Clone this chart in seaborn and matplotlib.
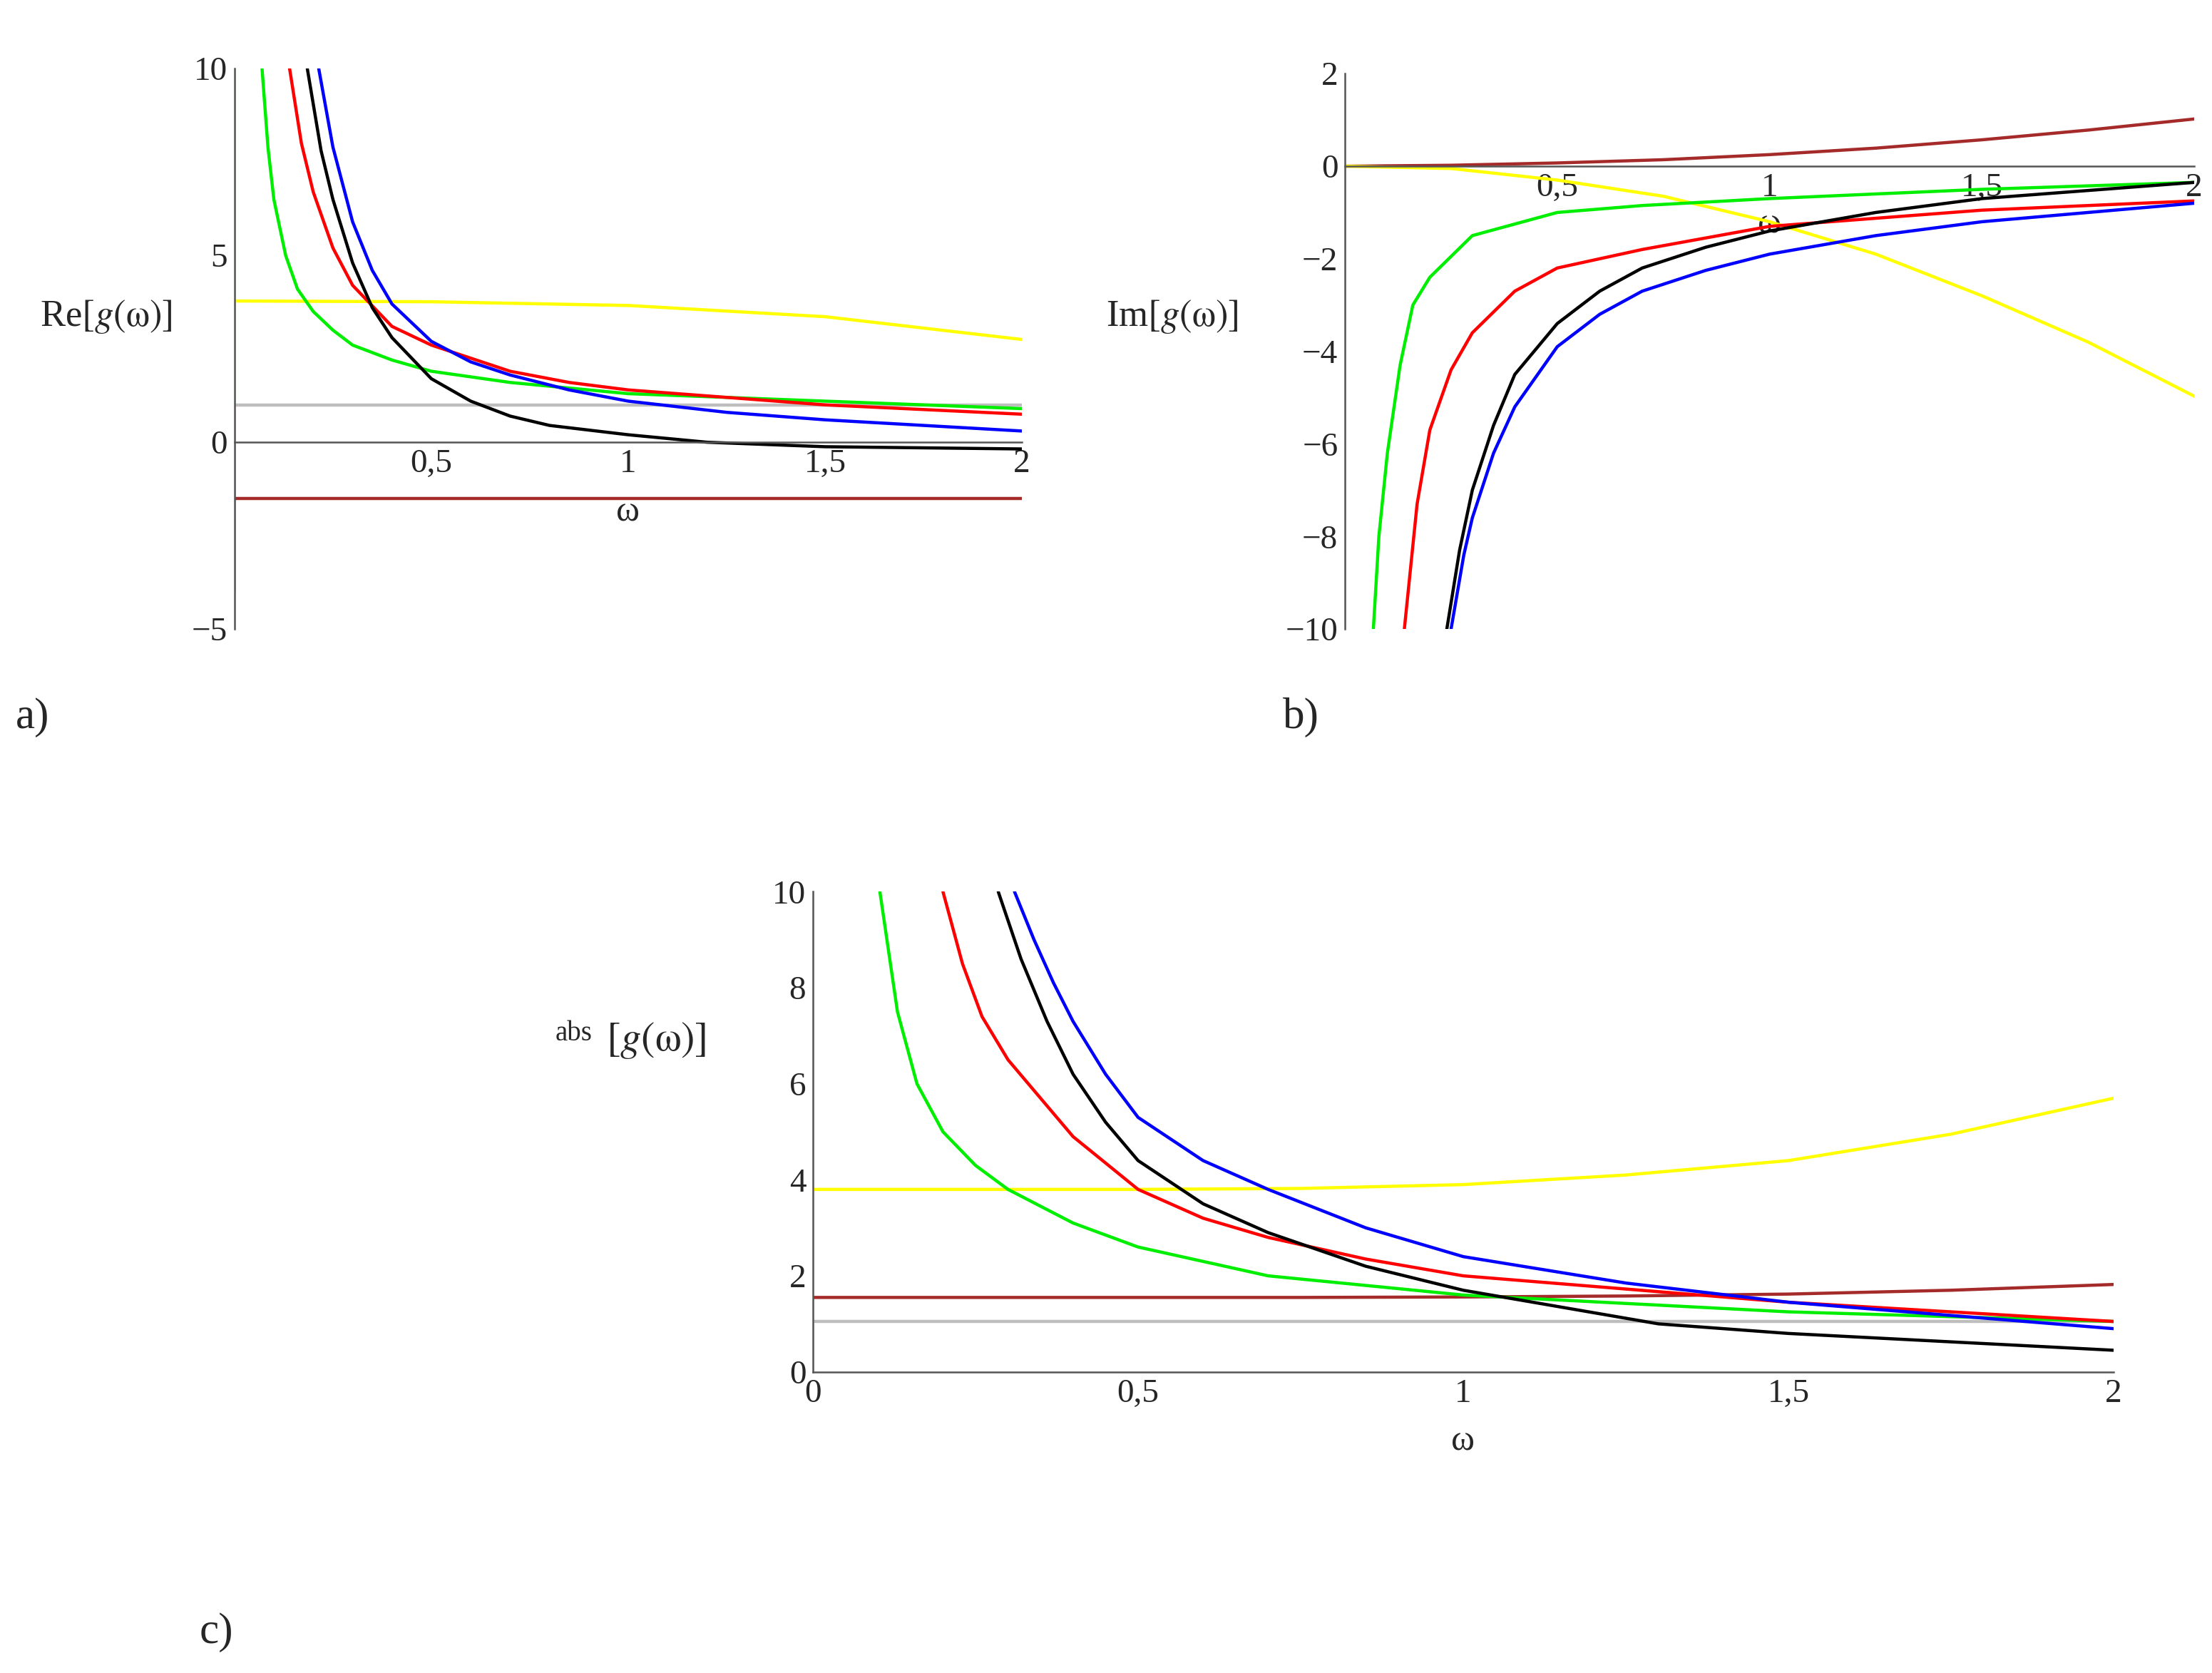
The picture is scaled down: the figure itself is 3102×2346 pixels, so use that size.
import numpy as np
import matplotlib
matplotlib.use("Agg")
import matplotlib.pyplot as plt
import seaborn as sns
from matplotlib.ticker import MultipleLocator

sns.set_style("white")
plt.rcParams['font.family'] = ['Liberation Serif', 'DejaVu Serif']
plt.rcParams['mathtext.fontset'] = 'stix'

COL = dict(yellow="#ffff00", green="#00ee00", red="#ff0000", blue="#0000ff",
           black="#000000", gray="#bebebe", brown="#a52a2a")

# ---- panel a: Re[g(w)] ----
re_w_flat = [0.0, 0.5, 1.0, 1.5, 2.0]
re_yellow = [3.78, 3.76, 3.66, 3.36, 2.75]
re_gray = [1.0, 1.0, 1.0, 1.0, 1.0]
re_brown = [-1.5, -1.5, -1.5, -1.5, -1.5]
re_black_w = [0.185, 0.22, 0.25, 0.3, 0.35, 0.4, 0.5, 0.6, 0.7, 0.8, 1.0, 1.2, 1.5, 2.0]
re_black = [10, 7.8, 6.5, 4.8, 3.6, 2.8, 1.7, 1.1, 0.7, 0.45, 0.2, 0.0, -0.12, -0.18]
re_blue_w = [0.214, 0.25, 0.3, 0.35, 0.4, 0.5, 0.6, 0.7, 0.85, 1.0, 1.25, 1.5, 2.0]
re_blue = [10, 7.9, 5.9, 4.6, 3.7, 2.7, 2.15, 1.8, 1.4, 1.1, 0.8, 0.6, 0.3]
re_red_w = [0.14, 0.17, 0.2, 0.25, 0.3, 0.4, 0.5, 0.7, 0.85, 1.0, 1.5, 2.0]
re_red = [10, 8.0, 6.7, 5.2, 4.2, 3.1, 2.6, 1.9, 1.6, 1.4, 1.0, 0.75]
re_green_w = [0.07, 0.085, 0.1, 0.13, 0.16, 0.2, 0.25, 0.3, 0.4, 0.5, 0.7, 1.0, 1.5, 2.0]
re_green = [10, 7.9, 6.5, 5.0, 4.1, 3.5, 3.0, 2.6, 2.2, 1.9, 1.6, 1.3, 1.1, 0.9]
re_axis_seg = [("green", 10, 1.0), ("red", 1.0, 0.0), ("blue", 0.0, -2.0), ("black", -2.0, -4.0)]

# ---- panel b: Im[g(w)] ----
im_w = [0.0, 0.25, 0.5, 0.75, 1.0, 1.25, 1.5, 1.75, 2.0]
im_brown = [0.0, 0.02, 0.07, 0.14, 0.25, 0.39, 0.57, 0.78, 1.02]
im_yellow = [0.0, -0.05, -0.3, -0.65, -1.2, -1.9, -2.8, -3.8, -4.97]
im_green_w = [0.067, 0.08, 0.1, 0.13, 0.16, 0.2, 0.3, 0.5, 0.7, 1.0, 1.5, 2.0]
im_green = [-10, -8.0, -6.2, -4.3, -3.0, -2.4, -1.5, -1.0, -0.85, -0.7, -0.5, -0.35]
im_red_w = [0.14, 0.17, 0.2, 0.25, 0.3, 0.4, 0.5, 0.7, 1.0, 1.5, 2.0]
im_red = [-10, -7.3, -5.7, -4.4, -3.6, -2.7, -2.2, -1.8, -1.3, -0.95, -0.75]
im_black_w = [0.24, 0.27, 0.3, 0.35, 0.4, 0.5, 0.6, 0.7, 0.85, 1.0, 1.25, 1.5, 2.0]
im_black = [-10, -8.3, -7.0, -5.6, -4.5, -3.4, -2.7, -2.2, -1.75, -1.4, -1.0, -0.7, -0.35]
im_blue_w = [0.25, 0.28, 0.3, 0.35, 0.4, 0.5, 0.6, 0.7, 0.85, 1.0, 1.25, 1.5, 2.0]
im_blue = [-10, -8.4, -7.6, -6.2, -5.2, -3.9, -3.2, -2.7, -2.25, -1.9, -1.5, -1.2, -0.8]

# ---- panel c: abs[g(w)] ----
ab_w = [0.0, 0.25, 0.5, 0.75, 1.0, 1.25, 1.5, 1.75, 2.0]
ab_yellow = [3.8, 3.8, 3.8, 3.82, 3.9, 4.1, 4.4, 4.95, 5.7]
ab_brown = [1.55, 1.55, 1.55, 1.55, 1.56, 1.58, 1.62, 1.7, 1.82]
ab_gray = [1.05] * 9
ab_green_w = [0.103, 0.13, 0.16, 0.2, 0.25, 0.3, 0.4, 0.5, 0.7, 1.0, 1.5, 2.0]
ab_green = [10, 7.5, 6.0, 5.0, 4.3, 3.8, 3.1, 2.6, 2.0, 1.6, 1.25, 1.05]
ab_red_w = [0.2, 0.23, 0.26, 0.3, 0.4, 0.5, 0.6, 0.7, 0.85, 1.0, 1.5, 2.0]
ab_red = [10, 8.5, 7.4, 6.5, 4.9, 3.8, 3.2, 2.8, 2.35, 2.0, 1.45, 1.05]
ab_black_w = [0.285, 0.32, 0.36, 0.4, 0.45, 0.5, 0.6, 0.7, 0.85, 1.0, 1.3, 1.5, 2.0]
ab_black = [10, 8.6, 7.3, 6.2, 5.2, 4.4, 3.5, 2.9, 2.2, 1.7, 1.0, 0.8, 0.45]
ab_blue_w = [0.31, 0.34, 0.37, 0.4, 0.45, 0.5, 0.6, 0.7, 0.85, 1.0, 1.25, 1.5, 2.0]
ab_blue = [10, 9.0, 8.1, 7.3, 6.2, 5.3, 4.4, 3.8, 3.0, 2.4, 1.85, 1.45, 0.9]
ab_axis_seg = [("green", 10, 1.0), ("brown", 1.0, 0.0)]

fig = plt.figure(figsize=(15.51, 11.73), dpi=200)
ax_a = fig.add_axes([0.106, 0.624, 0.356, 0.335])
ax_b = fig.add_axes([0.608, 0.624, 0.384, 0.332])
ax_c = fig.add_axes([0.3675, 0.180, 0.588, 0.287])


def line(ax, x, y, c, lw=1.6):
    sns.lineplot(x=x, y=y, ax=ax, color=COL[c], linewidth=lw, sort=False)


def maple_axes(ax, xlim, ylim, ymajor, yminor):
    ax.set_xlim(*xlim)
    ax.set_ylim(*ylim)
    for s in ["top", "right"]:
        ax.spines[s].set_visible(False)
    ax.spines["left"].set_position(("data", 0))
    ax.spines["bottom"].set_position(("data", 0))
    for s in ["left", "bottom"]:
        ax.spines[s].set_color("#555555")
        ax.spines[s].set_linewidth(0.9)
    ax.xaxis.set_major_locator(MultipleLocator(0.5))
    ax.xaxis.set_minor_locator(MultipleLocator(0.1))
    ax.yaxis.set_major_locator(MultipleLocator(ymajor))
    ax.yaxis.set_minor_locator(MultipleLocator(yminor))
    ax.tick_params(which="both", direction="in", color="#555555", labelsize=17)
    ax.tick_params(which="major", length=5)
    ax.tick_params(which="minor", length=3)
    ax.set_xticklabels([])
    ax.grid(False)


# panel a
for c, w, v in [("yellow", re_w_flat, re_yellow), ("gray", re_w_flat, re_gray),
                ("brown", re_w_flat, re_brown), ("green", re_green_w, re_green),
                ("red", re_red_w, re_red), ("blue", re_blue_w, re_blue),
                ("black", re_black_w, re_black)]:
    line(ax_a, w, v, c)
for c, y0, y1 in re_axis_seg:
    line(ax_a, [0, 0], [y0, y1], c, lw=2.2)
maple_axes(ax_a, (0, 2), (-5, 10), 5, 1)
ax_a.set_xticks([0.5, 1, 1.5, 2])
ax_a.set_xticklabels(["0,5", "1", "1,5", "2"])
ax_a.set_yticks([-5, 0, 5, 10])
ax_a.set_yticklabels(["\u22125", "0", "5", "10"])
ax_a.set_xlabel("ω", fontsize=18, labelpad=8)
ax_a.set_ylabel("")
fig.text(0.018, 0.805, r"Re$\left[g(\mathrm{\omega})\right]$", fontsize=19)

# panel b
for c, w, v in [("brown", im_w, im_brown), ("yellow", im_w, im_yellow),
                ("green", im_green_w, im_green), ("red", im_red_w, im_red),
                ("black", im_black_w, im_black), ("blue", im_blue_w, im_blue)]:
    line(ax_b, w, v, c)
line(ax_b, [0, 0], [0, -10], "green", lw=2.2)
maple_axes(ax_b, (0, 2), (-10, 2), 2, 1)
ax_b.set_xticks([0.5, 1, 1.5, 2])
ax_b.set_xticklabels(["0,5", "1", "1,5", "2"])
ax_b.set_yticks(list(range(-10, 3, 2)))
ax_b.set_yticklabels([("\u2212" + str(-t)) if t < 0 else str(t) for t in range(-10, 3, 2)])
ax_b.set_xlabel("ω", fontsize=18, labelpad=2)
ax_b.set_ylabel("")
fig.text(0.5, 0.805, r"Im$\left[g(\mathrm{\omega})\right]$", fontsize=19)

# panel c
for c, w, v in [("yellow", ab_w, ab_yellow), ("brown", ab_w, ab_brown),
                ("gray", ab_w, ab_gray), ("green", ab_green_w, ab_green),
                ("red", ab_red_w, ab_red), ("black", ab_black_w, ab_black),
                ("blue", ab_blue_w, ab_blue)]:
    line(ax_c, w, v, c)
for c, y0, y1 in ab_axis_seg:
    line(ax_c, [0, 0], [y0, y1], c, lw=2.2)
maple_axes(ax_c, (0, 2), (0, 10), 2, 0.5)
ax_c.set_xticks([0, 0.5, 1, 1.5, 2])
ax_c.set_xticklabels(["0", "0,5", "1", "1,5", "2"])
ax_c.set_yticks([0, 2, 4, 6, 8, 10])
ax_c.set_yticklabels(["0", "2", "4", "6", "8", "10"])
ax_c.set_xlabel("ω", fontsize=18, labelpad=8)
ax_c.set_ylabel("")
fig.text(0.251, 0.378, "abs", fontsize=14)
fig.text(0.274, 0.372, r"$\left[g(\mathrm{\omega})\right]$", fontsize=21)

fig.text(0.007, 0.565, "a)", fontsize=22, family=["Liberation Serif"])
fig.text(0.58, 0.565, "b)", fontsize=22, family=["Liberation Serif"])
fig.text(0.09, 0.018, "c)", fontsize=22, family=["Liberation Serif"])

fig.savefig("out.png", dpi=200, facecolor="white")
